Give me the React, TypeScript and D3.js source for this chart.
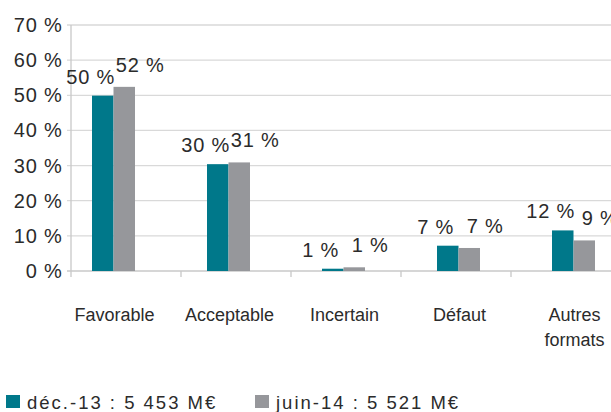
import * as d3 from 'd3';
import React, { useEffect, useRef } from 'react';

const categories = ['Favorable', 'Acceptable', 'Incertain', 'Défaut', 'Autres formats'];
const dec13 = [49.9, 30.4, 0.65, 7.2, 11.55];
const juin14 = [52.4, 30.9, 1.05, 6.55, 8.7];
const seriesNames = ['déc.-13 : 5 453 M€', 'juin-14 : 5 521 M€'];
const yTicks = [0, 10, 20, 30, 40, 50, 60, 70];

const TEAL = '#00788a';
const GREY = '#96979b';
const INK = '#2b2b2b';
const FONT = '"Liberation Sans", Arial, sans-serif';

const App = () => {
  const ref = useRef<SVGSVGElement>(null);

  useEffect(() => {
    const svg = d3.select(ref.current);
    svg.selectAll('*').remove();

    const y = d3.scaleLinear().domain([0, 70]).range([271, 25]);
    // bars and ticks sit on slightly different spacing in the original
    const x = d3.scaleBand().domain(categories).range([56, 631]);
    const tickX = d3.scaleLinear().domain([0, 5]).range([71, 621]);
    const barW = 21.5;

    // gridlines
    svg.append('g')
      .selectAll('line')
      .data(yTicks.slice(1))
      .enter().append('line')
      .attr('x1', 67).attr('x2', 611)
      .attr('y1', d => y(d)).attr('y2', d => y(d))
      .attr('stroke', '#d9d9d9').attr('stroke-width', 1.3);

    // y axis line + 0 line
    svg.append('line')
      .attr('x1', 71).attr('x2', 71).attr('y1', y(70)).attr('y2', y(0) + 6)
      .attr('stroke', '#c8c8c8').attr('stroke-width', 1.3);
    svg.append('line')
      .attr('x1', 67).attr('x2', 611).attr('y1', y(0)).attr('y2', y(0))
      .attr('stroke', '#c8c8c8').attr('stroke-width', 1.3);
    svg.append('g')
      .selectAll('line')
      .data(d3.range(1, 6))
      .enter().append('line')
      .attr('x1', d => tickX(d)).attr('x2', d => tickX(d))
      .attr('y1', y(0)).attr('y2', y(0) + 6)
      .attr('stroke', '#c8c8c8').attr('stroke-width', 1.3);

    // y tick labels
    svg.append('g')
      .selectAll('text')
      .data(yTicks)
      .enter().append('text')
      .attr('x', 62.5).attr('y', d => y(d) + 7)
      .attr('text-anchor', 'end')
      .style('font-family', FONT).style('font-size', '20px')
      .style('letter-spacing', '0.8px')
      .attr('fill', INK)
      .text(d => `${d} %`);

    const series = [
      { values: dec13, color: TEAL, off: -barW / 2, dx: -12, dy: -12 },
      { values: juin14, color: GREY, off: barW / 2, dx: 16, dy: -15 },
    ];

    series.forEach(s => {
      const g = svg.append('g');
      g.selectAll('rect')
        .data(s.values)
        .enter().append('rect')
        .attr('x', (d, i) => x(categories[i])! + x.bandwidth() / 2 + s.off - barW / 2)
        .attr('y', d => y(d))
        .attr('width', barW)
        .attr('height', d => y(0) - y(d))
        .attr('fill', s.color);
      g.selectAll('text')
        .data(s.values)
        .enter().append('text')
        .attr('x', (d, i) => x(categories[i])! + x.bandwidth() / 2 + s.off + s.dx)
        .attr('y', d => y(d) + s.dy)
        .attr('text-anchor', 'middle')
        .style('font-family', FONT).style('font-size', '20px')
        .style('letter-spacing', '0.8px')
        .attr('fill', INK)
        .text(d => `${Math.round(d)} %`);
    });

    // category labels
    svg.append('g')
      .selectAll('text')
      .data(categories)
      .enter().append('text')
      .attr('x', d => x(d)! + x.bandwidth() / 2 + 1)
      .attr('y', 321)
      .attr('text-anchor', 'middle')
      .style('font-family', FONT).style('font-size', '18px')
      .attr('fill', INK)
      .each(function (d) {
        const words = d.split(' ');
        const t = d3.select(this);
        words.forEach((w, i) => {
          t.append('tspan').attr('x', t.attr('x')).attr('dy', i === 0 ? 0 : 25).text(w);
        });
      });

    // legend
    const legX = [6, 255];
    seriesNames.forEach((name, i) => {
      svg.append('rect')
        .attr('x', legX[i]).attr('y', 395).attr('width', 14).attr('height', 13)
        .attr('fill', i === 0 ? TEAL : GREY);
      svg.append('text')
        .attr('x', legX[i] + 21).attr('y', 408.5)
        .style('font-family', FONT).style('font-size', '18.5px')
        .style('letter-spacing', '2px')
        .attr('fill', INK)
        .text(name);
    });
  }, []);

  return (
    <svg ref={ref} width={611} height={412} style={{ position: 'absolute', left: 0, top: 0, background: '#fff' }} />
  );
};

export default App;
